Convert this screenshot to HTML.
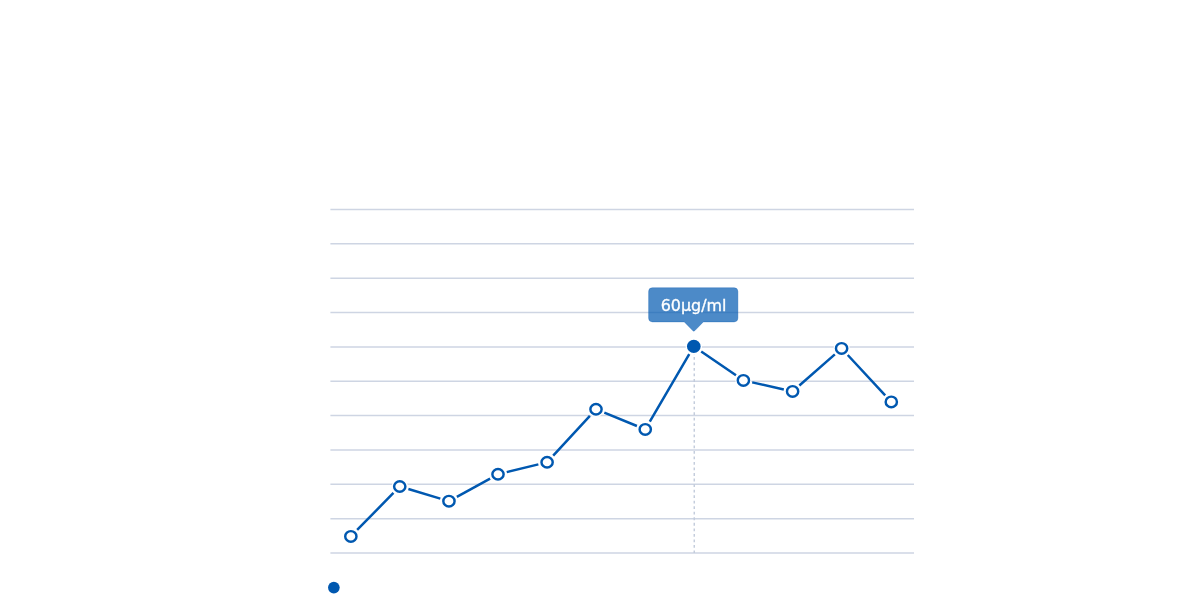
<!DOCTYPE html>
<html lang="en"><head><meta charset="utf-8"><title>Chart</title>
<style>
html,body{margin:0;padding:0;background:#fff;}
body{width:1200px;height:614px;overflow:hidden;position:relative;font-family:"DejaVu Sans","Liberation Sans",sans-serif;}
svg{position:absolute;left:0;top:0;display:block;}
</style></head><body>
<svg width="1200" height="614" viewBox="0 0 1200 614">

<g stroke="#ced5e3" stroke-width="1.5" fill="none">
<line x1="330.40" y1="209.40" x2="914.00" y2="209.40"/>
<line x1="330.40" y1="243.77" x2="914.00" y2="243.77"/>
<line x1="330.40" y1="278.14" x2="914.00" y2="278.14"/>
<line x1="330.40" y1="312.51" x2="914.00" y2="312.51"/>
<line x1="330.40" y1="346.88" x2="914.00" y2="346.88"/>
<line x1="330.40" y1="381.25" x2="914.00" y2="381.25"/>
<line x1="330.40" y1="415.62" x2="914.00" y2="415.62"/>
<line x1="330.40" y1="449.99" x2="914.00" y2="449.99"/>
<line x1="330.40" y1="484.36" x2="914.00" y2="484.36"/>
<line x1="330.40" y1="518.73" x2="914.00" y2="518.73"/>
<line x1="330.40" y1="553.10" x2="914.00" y2="553.10"/>
</g>
<line x1="694.25" y1="345.90" x2="694.25" y2="553.10" stroke="#c2cbdb" stroke-width="1.4" stroke-dasharray="2.8 2.73"/>
<path fill="none" stroke="#0058b0" stroke-width="2.5" d="M357.15 529.97L393.45 492.93M408.38 489.07L440.32 498.58M456.84 496.82L490.11 478.58M506.74 472.11L538.36 464.39M553.20 455.64L589.90 415.86M604.33 412.66L636.92 425.99M649.79 421.63L689.26 354.17M701.22 351.49L735.98 375.31M752.18 382.36L783.82 389.44M799.36 385.46L834.84 354.34M847.73 354.99L885.17 395.31"/>
<ellipse cx="350.85" cy="536.40" rx="8" ry="7.8" fill="#fff"/>
<ellipse cx="350.85" cy="536.40" rx="5.62" ry="5.27" fill="#fff" stroke="#0058b0" stroke-width="2.45"/>
<ellipse cx="399.75" cy="486.50" rx="8" ry="7.8" fill="#fff"/>
<ellipse cx="399.75" cy="486.50" rx="5.62" ry="5.27" fill="#fff" stroke="#0058b0" stroke-width="2.45"/>
<ellipse cx="448.95" cy="501.15" rx="8" ry="7.8" fill="#fff"/>
<ellipse cx="448.95" cy="501.15" rx="5.62" ry="5.27" fill="#fff" stroke="#0058b0" stroke-width="2.45"/>
<ellipse cx="498.00" cy="474.25" rx="8" ry="7.8" fill="#fff"/>
<ellipse cx="498.00" cy="474.25" rx="5.62" ry="5.27" fill="#fff" stroke="#0058b0" stroke-width="2.45"/>
<ellipse cx="547.10" cy="462.25" rx="8" ry="7.8" fill="#fff"/>
<ellipse cx="547.10" cy="462.25" rx="5.62" ry="5.27" fill="#fff" stroke="#0058b0" stroke-width="2.45"/>
<ellipse cx="596.00" cy="409.25" rx="8" ry="7.8" fill="#fff"/>
<ellipse cx="596.00" cy="409.25" rx="5.62" ry="5.27" fill="#fff" stroke="#0058b0" stroke-width="2.45"/>
<ellipse cx="645.25" cy="429.40" rx="8" ry="7.8" fill="#fff"/>
<ellipse cx="645.25" cy="429.40" rx="5.62" ry="5.27" fill="#fff" stroke="#0058b0" stroke-width="2.45"/>
<ellipse cx="693.80" cy="346.40" rx="8.25" ry="8" fill="#fff"/>
<ellipse cx="693.80" cy="346.40" rx="6.85" ry="6.6" fill="#0058b0"/>
<ellipse cx="743.40" cy="380.40" rx="8" ry="7.8" fill="#fff"/>
<ellipse cx="743.40" cy="380.40" rx="5.62" ry="5.27" fill="#fff" stroke="#0058b0" stroke-width="2.45"/>
<ellipse cx="792.60" cy="391.40" rx="8" ry="7.8" fill="#fff"/>
<ellipse cx="792.60" cy="391.40" rx="5.62" ry="5.27" fill="#fff" stroke="#0058b0" stroke-width="2.45"/>
<ellipse cx="841.60" cy="348.40" rx="8" ry="7.8" fill="#fff"/>
<ellipse cx="841.60" cy="348.40" rx="5.62" ry="5.27" fill="#fff" stroke="#0058b0" stroke-width="2.45"/>
<ellipse cx="891.30" cy="401.90" rx="8" ry="7.8" fill="#fff"/>
<ellipse cx="891.30" cy="401.90" rx="5.62" ry="5.27" fill="#fff" stroke="#0058b0" stroke-width="2.45"/>
<circle cx="333.85" cy="587.55" r="5.85" fill="#0058b0"/>
<path d="M652.4 287.7H734.1A3.8 3.8 0 0 1 737.9 291.5V318.1A3.8 3.8 0 0 1 734.1 321.9H703.3L694.9 330.6Q693.8 331.8 692.7 330.6L684.3 321.9H652.4A3.8 3.8 0 0 1 648.6 318.1V291.5A3.8 3.8 0 0 1 652.4 287.7Z" fill="#0058b0" fill-opacity="0.70" stroke="#0058b0" stroke-opacity="0.35" stroke-width="0.9" stroke-linejoin="round"/>
<text x="693.6" y="310.6" text-anchor="middle" textLength="65.8" lengthAdjust="spacingAndGlyphs" font-family="DejaVu Sans, Liberation Sans, sans-serif" font-size="15.2" fill="#fff" stroke="#fff" stroke-width="0.3">60µg/ml</text>
</svg></body></html>
